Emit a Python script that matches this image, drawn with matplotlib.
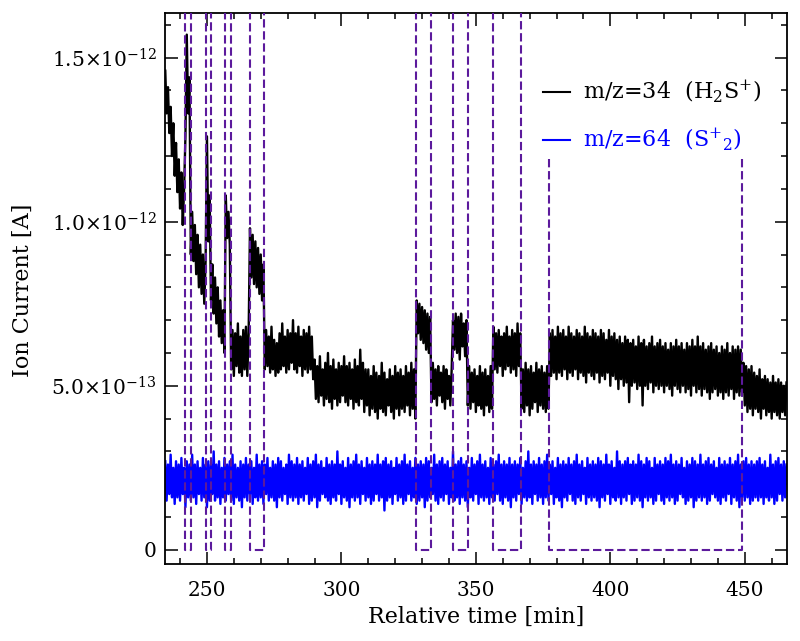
import numpy as np
import matplotlib
matplotlib.use("Agg")
import matplotlib.pyplot as plt
from matplotlib.ticker import MultipleLocator

plt.rcParams['font.family'] = ['DejaVu Serif']
plt.rcParams['mathtext.fontset'] = 'dejavuserif'

# ---------------- data (ion current in units of 1e-13 A) ----------------
STEP = 0.5  # sampling step [min]
SCALE = 1e-13

# m/z=34 (H2S+) : segments (start time, values)
h2s_seg_a = (234.5, [14.6, 13.3, 14.1, 12.7, 13.5, 12.0, 13.0, 11.4, 12.4, 10.9, 11.9, 10.4, 11.5, 9.9, 11.0])
h2s_box_1 = (242.0, [12.6, 15.7, 13.3, 14.4])
h2s_seg_b = (244.0, [9.0, 10.3, 8.8, 9.9, 8.4, 9.6, 8.0, 9.3, 7.8, 9.0, 7.5, 8.8])
h2s_box_2 = (250.0, [12.6, 9.4, 10.8])
h2s_seg_c = (251.5, [7.6, 8.7, 7.2, 8.3, 6.9, 8.0, 6.5, 7.6, 6.3, 7.3, 6.0])
h2s_box_3 = (257.0, [10.8, 9.5, 10.3, 9.3])
h2s_seg_d = (259.0, [5.5, 6.7, 5.3, 6.6, 5.6, 6.9, 5.4, 6.5, 5.3, 6.7, 5.5, 6.8, 5.3, 6.6])
h2s_box_4 = (266.0, [9.8, 8.3, 9.6, 8.1, 9.4, 8.0, 9.2, 7.8, 9.0, 7.6, 8.7])
h2s_seg_e = (271.5, [5.5, 6.7, 5.6, 6.5, 5.4, 6.8, 5.5, 6.4, 5.3, 6.3, 5.4, 6.6, 5.5, 6.9, 5.6, 6.5,
                     5.4, 6.7, 5.5, 6.6, 5.7, 7.0, 5.5, 6.6, 5.4, 6.8, 5.6, 6.5, 5.3, 6.7, 5.5, 6.6,
                     5.4, 6.8, 5.5, 6.5, 5.2])
h2s_seg_f = (290.0, [5.8, 4.6, 5.6, 4.5, 5.9, 4.7, 5.5, 4.4, 5.7, 4.6, 6.0, 4.5, 5.6, 4.3, 5.8, 4.6,
                     5.5, 4.4, 5.7, 4.5, 5.6, 4.7, 5.9, 4.5, 5.6, 4.4, 5.7, 4.6, 5.5, 4.3, 5.8, 4.5,
                     5.6, 4.4, 6.1, 4.6, 5.7, 4.2, 5.5, 4.4])
h2s_seg_g = (310.0, [5.5, 4.1, 5.3, 4.3, 5.6, 4.2, 5.4, 4.0, 5.3, 4.3, 5.7, 4.2, 5.4, 4.1, 5.2, 4.4,
                     5.5, 4.2, 5.3, 4.0, 5.6, 4.3, 5.4, 4.1, 5.5, 4.3, 5.3, 4.2, 5.6, 4.4, 5.4, 4.1,
                     5.7, 4.3, 5.5, 4.0])
h2s_box_5 = (328.0, [7.6, 6.6, 7.5, 6.4, 7.4, 6.3, 7.3, 6.1, 7.2, 6.0, 7.1])
h2s_seg_h = (333.5, [4.5, 5.7, 4.6, 5.5, 4.4, 5.6, 4.7, 5.4, 4.5, 5.6, 4.3, 5.5, 4.6, 5.3, 4.4, 5.5])
h2s_box_6 = (341.5, [7.0, 6.1, 7.2, 6.0, 7.1, 5.8, 7.2, 6.2, 6.9, 5.9, 7.0])
h2s_seg_i = (347.0, [4.4, 5.6, 4.3, 5.4, 4.5, 5.5, 4.2, 5.3, 4.4, 5.6, 4.3, 5.4, 4.1, 5.5, 4.4, 5.3,
                     4.2, 5.6, 4.3])
h2s_box_7 = (356.5, [6.8, 5.5, 6.6, 5.4, 6.7, 5.6, 6.5, 5.3, 6.6, 5.5, 6.8, 5.6, 6.5, 5.4, 6.7, 5.5,
                     6.6, 5.3, 6.9, 5.6, 6.6])
h2s_seg_j = (367.0, [4.3, 5.5, 4.2, 5.7, 4.4, 5.5, 4.1, 5.6, 4.3, 5.4, 4.5, 5.7, 4.2, 5.5, 4.4, 5.6,
                     4.3, 5.4, 4.2, 5.6, 4.3])
h2s_box_8 = (377.5, [6.6, 5.3, 6.7, 5.4, 6.5, 5.2, 6.8, 5.4, 6.6, 5.3,
                     6.7, 5.5, 6.5, 5.2, 6.8, 5.4, 6.6, 5.3, 6.5, 5.5,
                     6.7, 5.2, 6.6, 5.4, 6.5, 5.3, 6.8, 5.1, 6.6, 5.4,
                     6.5, 5.3, 6.7, 5.2, 6.6, 5.4, 6.5, 5.1, 6.7, 5.3,
                     6.6, 5.2, 6.4, 5.4, 6.7, 5.0, 6.5, 5.3, 6.6, 5.2,
                     6.4, 4.9, 6.5, 5.2, 6.3, 5.0, 6.5, 5.1, 6.4, 4.5,
                     6.3, 5.0, 6.4, 5.1, 6.2, 4.9, 6.5, 5.0, 6.3, 4.4,
                     6.4, 5.0, 6.2, 4.9, 6.3, 5.1, 6.5, 4.8, 6.2, 5.0,
                     6.3, 4.9, 6.4, 5.0, 6.2, 4.8, 6.3, 5.0, 6.1, 4.9,
                     6.3, 4.7, 6.2, 5.0, 6.4, 4.9, 6.2, 4.8, 6.3, 5.0,
                     6.1, 4.8, 6.3, 4.9, 6.2, 4.7, 6.4, 5.0, 6.2, 4.8,
                     6.5, 4.9, 6.2, 4.7, 6.3, 4.9, 6.1, 4.8, 6.2, 4.6,
                     6.3, 4.8, 6.1, 4.9, 6.2, 4.7, 6.0, 4.8, 6.2, 4.6,
                     6.1, 4.8, 6.3, 4.7, 6.0, 4.9, 6.2, 4.6, 6.1, 4.8,
                     6.2, 4.7, 6.1, 4.8])
h2s_seg_k = (449.5, [5.7, 4.4, 5.6, 4.2, 5.5, 4.3, 5.6, 4.1, 5.4, 4.3, 5.3, 4.2, 5.5, 4.0, 5.2, 4.3,
                     5.3, 4.1, 5.2, 4.2, 5.1, 4.0, 5.3, 4.2, 5.1, 4.1, 5.2, 4.0, 5.1, 4.2, 5.0, 4.1,
                     5.1])

h2s_segments = [h2s_seg_a, h2s_box_1, h2s_seg_b, h2s_box_2, h2s_seg_c, h2s_box_3, h2s_seg_d,
                h2s_box_4, h2s_seg_e, h2s_seg_f, h2s_seg_g, h2s_box_5, h2s_seg_h, h2s_box_6,
                h2s_seg_i, h2s_box_7, h2s_seg_j, h2s_box_8, h2s_seg_k]

# m/z=64 (S2+) values, start 234.5 min, step 0.5 min
s2_start = 234.5
s2_values = [
    2.7, 1.5, 2.6, 1.7, 2.9, 1.6, 2.5, 1.4, 2.7, 1.6, 2.6, 1.5, 2.8, 1.7, 2.5, 1.3, 2.7, 1.6, 2.6, 1.5,
    2.9, 1.6, 2.6, 1.4, 2.7, 1.7, 2.5, 1.5, 2.8, 1.6, 2.6, 1.3, 2.7, 1.5, 2.6, 1.7, 3.0, 1.5, 2.6, 1.6,
    2.7, 1.4, 2.5, 1.6, 2.8, 1.5, 2.6, 1.7, 2.7, 1.5, 2.9, 1.4, 2.6, 1.6, 2.5, 1.5, 2.7, 1.3, 2.6, 1.6,
    2.8, 1.5, 2.6, 1.7, 2.7, 1.4, 2.5, 1.6, 2.9, 1.5, 2.6, 1.6, 2.7, 1.4, 2.6, 1.7, 2.8, 1.5, 2.5, 1.6,
    2.7, 1.5, 2.6, 1.3, 2.8, 1.6, 2.7, 1.5, 2.5, 1.7, 2.6, 1.4, 2.9, 1.6, 2.7, 1.5, 2.6, 1.6, 2.8, 1.4,
    2.6, 1.6, 2.7, 1.5, 2.5, 1.7, 2.8, 1.4, 2.6, 1.5, 2.7, 1.6, 2.9, 1.3, 2.6, 1.5, 2.7, 1.7, 2.5, 1.6,
    2.8, 1.5, 2.6, 1.4, 2.7, 1.6, 2.6, 1.5, 3.0, 1.7, 2.6, 1.4, 2.7, 1.6, 2.5, 1.5, 2.8, 1.3, 2.6, 1.6,
    2.7, 1.5, 2.9, 1.6, 2.6, 1.4, 2.7, 1.7, 2.5, 1.5, 2.8, 1.6, 2.6, 1.4, 2.7, 1.5, 2.6, 1.7, 2.9, 1.5,
    2.6, 1.6, 2.7, 1.2, 2.8, 1.5, 2.6, 1.6, 2.7, 1.4, 2.5, 1.7, 2.8, 1.5, 2.6, 1.6, 2.7, 1.4, 2.9, 1.5,
    2.6, 1.7, 2.7, 1.5, 2.5, 1.6, 2.8, 1.4, 2.6, 1.5, 2.7, 1.6, 2.6, 1.3, 2.8, 1.5, 2.7, 1.6, 2.5, 1.7,
    2.9, 1.5, 2.6, 1.4, 2.7, 1.6, 2.8, 1.5, 2.6, 1.7, 2.7, 1.4, 2.5, 1.6, 3.0, 1.5, 2.6, 1.6, 2.7, 1.4,
    2.8, 1.6, 2.6, 1.5, 2.7, 1.3, 2.5, 1.6, 2.8, 1.5, 2.6, 1.7, 2.7, 1.4, 2.9, 1.6, 2.6, 1.5, 2.7, 1.6,
    2.5, 1.4, 2.8, 1.6, 2.6, 1.5, 2.7, 1.7, 2.9, 1.5, 2.6, 1.4, 2.7, 1.6, 2.6, 1.5, 2.8, 1.3, 2.6, 1.6,
    2.7, 1.5, 2.6, 1.7, 2.8, 1.4, 2.5, 1.6, 2.7, 1.5, 3.0, 1.6, 2.6, 1.4, 2.7, 1.7, 2.6, 1.5, 2.8, 1.6,
    2.6, 1.4, 2.7, 1.6, 2.9, 1.5, 2.6, 1.7, 2.7, 1.4, 2.5, 1.6, 2.8, 1.5, 2.6, 1.3, 2.7, 1.6, 2.6, 1.5,
    2.8, 1.7, 2.6, 1.5, 2.7, 1.4, 2.9, 1.6, 2.6, 1.5, 2.7, 1.7, 2.5, 1.4, 2.8, 1.6, 2.6, 1.5, 2.7, 1.6,
    2.6, 1.5, 2.8, 1.3, 2.7, 1.6, 2.6, 1.5, 2.9, 1.7, 2.6, 1.4, 2.7, 1.6, 2.5, 1.5, 3.0, 1.6, 2.7, 1.4,
    2.6, 1.6, 2.7, 1.5, 2.8, 1.7, 2.6, 1.4, 2.7, 1.5, 2.6, 1.6, 2.9, 1.5, 2.7, 1.3, 2.6, 1.6, 2.8, 1.5,
    2.7, 1.6, 2.5, 1.4, 2.8, 1.5, 2.6, 1.7, 2.7, 1.5, 2.6, 1.4, 2.8, 1.6, 2.7, 1.5, 2.9, 1.6, 2.6, 1.4,
    2.7, 1.5, 2.6, 1.7, 2.8, 1.6, 2.5, 1.4, 2.7, 1.5, 2.6, 1.6, 2.8, 1.3, 2.7, 1.5, 2.6, 1.6, 2.9, 1.5,
    2.6, 1.6, 2.7, 1.4, 2.8, 1.5, 2.6, 1.7, 2.7, 1.6, 2.5, 1.5, 2.8, 1.4, 2.6, 1.6, 2.7, 1.5, 2.6, 1.7,
    2.8, 1.4, 2.6, 1.6, 2.7, 1.5, 2.9, 1.3, 2.6, 1.6, 2.7, 1.5, 2.8, 1.6, 2.6, 1.4, 2.7, 1.5, 2.6, 1.6,
    2.7, 1.5, 2.8, 1.6, 2.6, 1.4, 2.7, 1.6, 2.5, 1.5, 2.9, 1.6, 2.6, 1.4, 2.7, 1.5, 2.8, 1.7, 2.6, 1.5,
    2.7, 1.6, 2.6,
]

# dashed marker boxes [min] and their top level [A]
box_left = [242.0, 249.75, 256.6, 265.9, 327.6, 341.4, 356.2, 377.2]
box_right = [244.0, 251.4, 259.0, 271.3, 333.3, 347.0, 366.7, 449.0]
box_top = [2.0e-12, 2.0e-12, 2.0e-12, 2.0e-12, 2.0e-12, 2.0e-12, 2.0e-12, 1.19e-12]

ytick_vals = [0, 5e-13, 1e-12, 1.5e-12]
ytick_labels = ['0', r'$5.0{\times}10^{-13}$', r'$1.0{\times}10^{-12}$', r'$1.5{\times}10^{-12}$']
xtick_vals = [250, 300, 350, 400, 450]

legend_labels = [r'm/z=34  (H$_2$S$^{+}$)', r'm/z=64  (S$^{+}$$_{2}$)']
series_colors = ['black', '#0000ff']
box_color = '#5c1a9c'

# ---------------- figure ----------------
fig = plt.figure(figsize=(8.0, 6.41), dpi=100)
ax = fig.add_axes([165 / 800, 1 - 564.3 / 641, 622 / 800, 551 / 641])

t_h2s = np.concatenate([s + STEP * np.arange(len(v)) for s, v in h2s_segments])
i_h2s = np.concatenate([np.array(v) for s, v in h2s_segments]) * SCALE
t_s2 = s2_start + STEP * np.arange(len(s2_values))
i_s2 = np.array(s2_values) * SCALE

ax.plot(t_s2, i_s2, color=series_colors[1], lw=1.7, zorder=2)
ax.plot(t_h2s, i_h2s, color=series_colors[0], lw=1.7, zorder=3)

for x1, x2, top in zip(box_left, box_right, box_top):
    ax.plot([x1, x1, x2, x2], [top, 0, 0, top], color=box_color, lw=1.5,
            dashes=(4, 1.8), zorder=4, solid_capstyle='butt')

ax.set_xlim(234.4, 465.7)
ax.set_ylim(-4.4e-14, 1.635e-12)
ax.set_xticks(xtick_vals)
ax.set_yticks(ytick_vals)
ax.set_yticklabels(ytick_labels)
ax.xaxis.set_minor_locator(MultipleLocator(10))
ax.yaxis.set_minor_locator(MultipleLocator(1e-13))
ax.tick_params(which='both', direction='in', top=True, right=True, width=1.1, labelsize=14.5)
ax.tick_params(which='major', length=9)
ax.tick_params(which='minor', length=4.5)
ax.tick_params(axis='x', which='major', pad=12)
ax.tick_params(axis='y', which='major', pad=6)
for sp in ax.spines.values():
    sp.set_linewidth(1.3)

ax.set_xlabel('Relative time [min]', fontsize=16)
ax.set_ylabel('Ion Current [A]', fontsize=16)
ax.xaxis.set_label_coords(0.5, -0.096)
ax.yaxis.set_label_coords(-0.228, 0.498)
ax.xaxis.label.set_va('center')
ax.yaxis.label.set_va('center')

# legend (drawn manually to match position)
leg_y = [0.857, 0.770]
for lbl, col, yy in zip(legend_labels, series_colors, leg_y):
    ax.plot([0.608, 0.651], [yy, yy], color=col, lw=1.5, transform=ax.transAxes, zorder=5)
    ax.text(0.672, yy, lbl, color=col, fontsize=16, va='center', ha='left',
            transform=ax.transAxes, zorder=5)

fig.savefig('out.png', dpi=100)
